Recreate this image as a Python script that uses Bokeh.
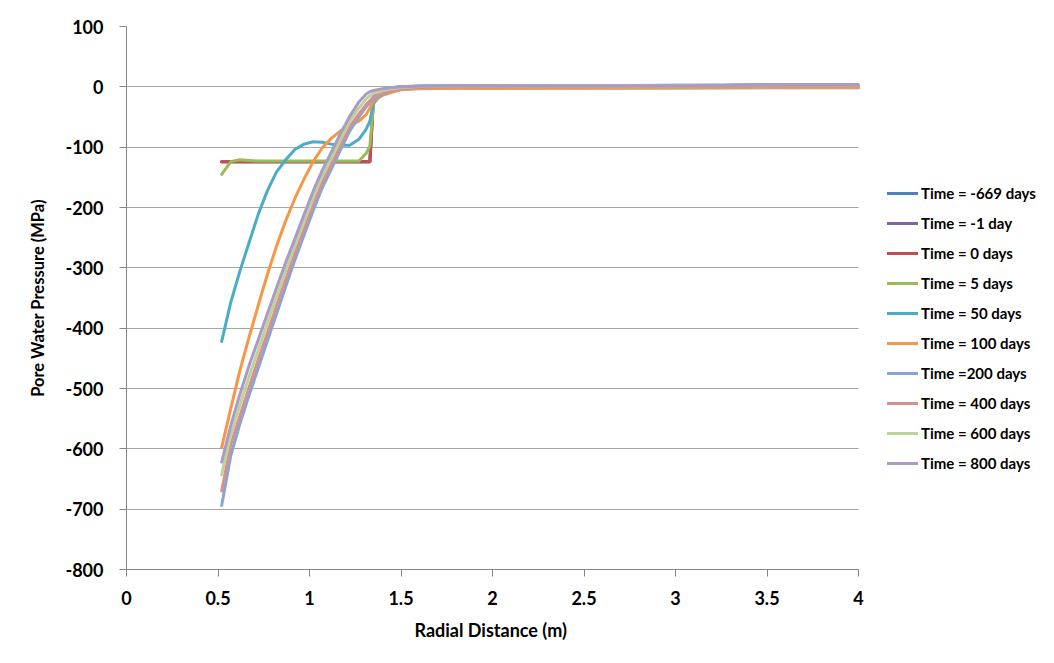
from bokeh.plotting import figure
from bokeh.models import Legend, LegendItem, FixedTicker, Range1d, Title
from bokeh.embed import file_html
from bokeh.resources import INLINE

# ---- data ----
radial = [0.52, 0.57, 0.62, 0.67, 0.72, 0.77, 0.82, 0.87, 0.92, 0.97, 1.02, 1.07,
          1.12, 1.17, 1.22, 1.27, 1.31, 1.33, 1.35, 1.40, 1.45, 1.50, 1.60, 1.80,
          2.00, 2.50, 3.00, 3.50, 4.00]

t_m669 = [-124, -124, -124, -124, -124, -124, -124, -124, -124, -124, -124, -124,
          -124, -124, -124, -124, -124, -124, -12, -4, -1.5, 0, 1.5, 2, 2, 2, 2.5, 3, 3]
t_m1 = [-124, -124, -124, -124, -124, -124, -124, -124, -124, -124, -124, -124,
        -124, -124, -124, -124, -124, -124, -14, -5, -2, -1, 0.5, 1, 1.5, 2, 2, 2.5, 2.5]
t_0 = [-124, -124, -124, -124, -124, -124, -124, -124, -124, -124, -124, -124,
       -124, -124, -124, -124, -124, -124, -20, -7, -3, -1.5, 0, 1, 1.5, 2, 2, 2.5, 2.5]
t_5 = [-145, -124, -121, -122, -123, -123, -123, -123, -123, -123, -123, -123,
       -123, -123, -123, -123, -110, -98, -28, -9, -4, -2, -1.5, -1.5, -1.5, -1.5, -1, -1, -1]
t_50 = [-422, -357, -305, -258, -211, -172, -141, -121, -104, -95, -91, -92,
        -95, -97, -97, -87, -70, -57, -25, -11, -5, -2, -2, -2, -2, -2, -2, -1.5, -1.5]
t_100 = [-598, -533, -470, -415, -362, -311, -264, -222, -185, -153, -124, -101,
         -85, -73, -64, -57, -46, -35, -23, -14, -9, -5, -3, -2.5, -2.5, -2, -1.5, -1, -1]
t_200 = [-694, -611, -558, -511, -466, -421, -376, -331, -287, -246, -205, -167,
         -136, -104, -73, -50, -33, -26, -20, -12, -6, -3, -0.5, 0.5, 1, 1.5, 2, 2, 2.5]
t_400 = [-670, -593, -545, -498, -452, -408, -363, -319, -276, -235, -194, -158,
         -128, -97, -66, -45, -29, -23, -17, -10, -5, -2, 0, 1, 1.5, 2, 2, 2.5, 2.5]
t_600 = [-643, -577, -527, -480, -436, -392, -348, -305, -264, -224, -184, -148,
         -118, -87, -57, -35, -20, -15, -11, -6, -3, -1, 0.5, 1.2, 1.5, 2, 2, 2.5, 2.5]
t_800 = [-622, -561, -509, -462, -419, -376, -333, -291, -252, -212, -173, -138,
         -108, -77, -49, -25, -12, -8, -6, -3, -1, 0, 1, 1.5, 1.5, 2, 2, 2.5, 2.5]

series_labels = ["Time = -669 days", "Time = -1 day", "Time = 0 days", "Time = 5 days",
                 "Time = 50 days", "Time = 100 days", "Time =200 days", "Time = 400 days",
                 "Time = 600 days", "Time = 800 days"]
series_values = [t_m669, t_m1, t_0, t_5, t_50, t_100, t_200, t_400, t_600, t_800]
series_colors = ["#4F81BD", "#8064A2", "#C0504D", "#9BBB59", "#4BACC6", "#F79646",
                 "#86A5D6", "#D8908E", "#BCD39A", "#A99BC6"]

x_ticks = [0, 0.5, 1, 1.5, 2, 2.5, 3, 3.5, 4]
x_tick_labels = ["0", "0.5", "1", "1.5", "2", "2.5", "3", "3.5", "4"]
y_ticks = [-800, -700, -600, -500, -400, -300, -200, -100, 0, 100]
y_tick_labels = ["-800", "-700", "-600", "-500", "-400", "-300", "-200", "-100", "0", "100"]
x_axis_min, x_axis_max = 0, 4
x_title = "Radial Distance (m)"
y_title = "Pore Water Pressure (MPa)"

FONT = "Lato"
AXIS_COL = "#868686"

# plot area spans 126..858 px for 0..4; the frame is widened to the right
# so that the legend can sit beside the data area
LEFT, RIGHT_EDGE, AXIS_RIGHT_PX = 126, 1050, 858
frame_end = x_axis_max * (RIGHT_EDGE - LEFT) / (AXIS_RIGHT_PX - LEFT)

p = figure(width=1054, height=663, output_backend="svg", toolbar_location=None,
           x_range=Range1d(x_axis_min, frame_end), y_range=Range1d(-800, 100),
           min_border_left=LEFT, min_border_right=1054 - RIGHT_EDGE, min_border_top=26,
           min_border_bottom=94)
p.outline_line_color = None
p.background_fill_color = "white"
p.border_fill_color = "white"

items = []
for lab, vals, col in zip(series_labels, series_values, series_colors):
    r = p.line(radial, vals, line_color=col, line_width=3, line_join="round",
               line_cap="round")
    items.append(LegendItem(label=lab, renderers=[r]))

# axes
for ax in (p.xaxis[0], p.yaxis[0]):
    ax.axis_line_color = AXIS_COL
    ax.major_tick_line_color = AXIS_COL
    ax.minor_tick_line_color = None
    ax.major_tick_in = 0
    ax.major_tick_out = 7
    ax.major_label_text_font = FONT
    ax.major_label_text_font_style = "bold"
    ax.major_label_text_font_size = "18px"
    ax.major_label_text_color = "black"
    ax.axis_label_text_font = FONT
    ax.axis_label_text_font_style = "bold"
    ax.axis_label_text_color = "black"

p.xaxis.bounds = (x_axis_min, x_axis_max)
p.yaxis.axis_label_text_font_size = "16.5px"
p.xaxis.ticker = FixedTicker(ticks=x_ticks)
p.xaxis.major_label_overrides = {t: s for t, s in zip(x_ticks, x_tick_labels)}
p.yaxis.ticker = FixedTicker(ticks=y_ticks)
p.yaxis.major_label_overrides = {t: s for t, s in zip(y_ticks, y_tick_labels)}
p.yaxis.axis_label = y_title
p.xaxis.major_label_standoff = 14
p.yaxis.major_label_standoff = 16
p.yaxis.axis_label_standoff = 14

# x-axis title placed under the 0..4 axis (not under the widened frame)
xt = Title(text=x_title, align="left", offset=288,
           text_font=FONT, text_font_style="bold", text_font_size="18px",
           text_color="black", standoff=19)
p.add_layout(xt, "below")

p.xgrid.grid_line_color = None
p.ygrid.grid_line_color = "#A6A6A6"
p.ygrid.grid_line_width = 1
p.ygrid.ticker = FixedTicker(ticks=y_ticks)
p.ygrid.cross_bounds = (x_axis_min, x_axis_max)

legend = Legend(items=items, location=(761, 96), orientation="vertical",
                padding=0, margin=0, spacing=10, glyph_width=31, glyph_height=20,
                label_height=20, label_standoff=3,
                label_text_font=FONT, label_text_font_style="bold",
                label_text_font_size="15px", label_text_color="black",
                border_line_color=None, background_fill_alpha=0)
p.add_layout(legend, "center")

open("out.html", "w").write(file_html(p, INLINE))
